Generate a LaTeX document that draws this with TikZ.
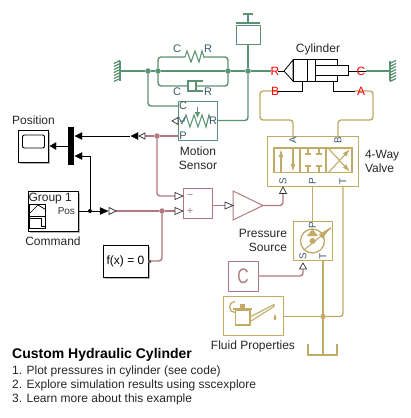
\documentclass[tikz,border=0pt]{standalone}
\usepackage{fontspec}
\setmainfont{Liberation Sans}
\usetikzlibrary{arrows.meta,calc}
\definecolor{grn}{HTML}{5A9273}
\definecolor{tan}{HTML}{C2AB66}
\definecolor{mau}{HTML}{B07A80}
\definecolor{slt}{HTML}{3E5A6A}
\tikzset{
 grnw/.style={draw=grn,line width=1.4pt,rounded corners=3pt},
 tanw/.style={draw=tan,line width=1.4pt,rounded corners=3pt},
 mauw/.style={draw=mau,line width=1.4pt,rounded corners=3pt},
 blkw/.style={draw=black,line width=0.8pt},
 box/.style={rectangle,inner sep=0pt,outer sep=0pt,fill=white},
 grnbox/.style={box,draw=grn,line width=0.8pt},
 tanbox/.style={box,draw=tan,line width=0.9pt},
 maubox/.style={box,draw=mau,line width=0.9pt},
 blkbox/.style={box,draw=black,line width=0.9pt},
 lbl/.style={inner sep=0pt,outer sep=0pt,font=\fontsize{12}{14}\selectfont,text=black!85,align=center},
 port/.style={inner sep=0pt,outer sep=0pt,font=\fontsize{10}{12}\selectfont},
 redl/.style={inner sep=0pt,outer sep=0pt,font=\fontsize{12}{12}\selectfont,text=red},
 jdot/.style={circle,inner sep=0pt,outer sep=0pt,minimum size=5.5pt},
 filltri/.style={fill=black,draw=black,line width=0.3pt},
 opentri/.style={fill=white,draw=black!80,line width=0.7pt},
}
\begin{document}
\begin{tikzpicture}[x=1pt,y=-1pt]
\useasboundingbox (0,0) rectangle (411,418);

% ---------- free connection points
\coordinate (gl) at (120,71);
\coordinate (grr) at (390,71);
\coordinate (rport) at (271,71);
\coordinate (cport) at (366,71);

% ---------- blocks
\node[grnbox,minimum width=39pt,minimum height=39pt] (ms) at (197.5,120.5) {};
\node[grnbox,minimum width=24pt,minimum height=19pt] (mass) at (248,34.5) {};
\node[tanbox,minimum width=91pt,minimum height=50pt] (valve) at (312.5,161) {};
\node[tanbox,minimum width=39pt,minimum height=39pt] (ps) at (312.5,240.5) {};
\node[tanbox,minimum width=60pt,minimum height=39pt] (fluid) at (253,315.5) {};
\node[maubox,minimum width=30pt,minimum height=30pt] (cblk) at (243,276) {};
\node[maubox,minimum width=29pt,minimum height=30pt] (sum) at (197.5,203) {};

\fill[black!28] (19.5,131.5) rectangle (49.5,163.5);
\node[blkbox,minimum width=30pt,minimum height=32pt] (scope) at (33,146) {};
\fill[black!28] (29.5,192.5) rectangle (79.5,232.5);
\node[blkbox,minimum width=50pt,minimum height=40pt] (cmd) at (53,211) {};
\fill[black!28] (104.5,246.5) rectangle (149.5,278.5);
\node[blkbox,minimum width=45pt,minimum height=32pt,font=\fontsize{12}{14}\selectfont] (fx) at (125.5,261) {f(x) = 0};
\node[box,fill=black,minimum width=6pt,minimum height=38pt] (mux) at (71,146) {};

% gain triangle
\coordinate (gin) at (233,205.5);
\coordinate (gout) at (263,205.5);
\draw[mau,line width=1pt,fill=white] (233,191) -- (gout) -- (233,220) -- cycle;

% ---------- junctions
\node[jdot,fill=grn] (j1) at (148,71) {};
\node[jdot,fill=grn] (j2) at (158,71) {};
\node[jdot,fill=grn] (j3) at (228,71) {};
\node[jdot,fill=grn] (j4) at (248,71) {};
\node[jdot,fill=mau] (j5) at (157,136) {};
\node[jdot,fill=mau] (j6) at (162,211) {};
\node[jdot,fill=black,minimum size=4pt] (j7) at (90,211) {};
\node[jdot,fill=tan] (j8) at (323,316.5) {};

% ---------- green wiring
\draw[grnw] (gl) -- (j1) -- (j2) -- (j3) -- (j4) -- (rport);
\draw[grnw] (j1) |- (ms.west |- 0,106);
\draw[grnw] (ms.east) -| (j4);
\draw[grnw] (j4) -- (mass.south);
\draw[grnw] (j2) |- (183,57);
\draw[grnw] (203,57) -| (j3);
\draw[grnw] (j2) |- (188,86);
\draw[grnw] (196,86) -| (j3);
\draw[grnw] (cport) -- (grr);
% spring
\draw[grn,line width=1.1pt,line join=miter] (183,57) -- (185,57) -- (187,51) -- (191,62) -- (195,51) -- (199,62) -- (202,51) -- (204,57);
% damper
\fill[white] (188,81) rectangle (196,91);
\draw[grn,line width=1.1pt] (203,81) -- (188,81) -- (188,91) -- (203,91);
\draw[grn,line width=1.8pt] (196,81) -- (196,91);
% left ground
\draw[grn,line width=1.3pt] (120,61) -- (120,81);
\foreach \y in {60.5,63.5,66.5,69.5,72.5,75.5,78.5}{\draw[grn,line width=1.2pt] (120,\y) -- (114,\y+3);}
% right ground
\draw[grn,line width=1.3pt] (390,61) -- (390,81);
\foreach \y in {60.5,63.5,66.5,69.5,72.5,75.5,78.5}{\draw[grn,line width=1.2pt] (390,\y+3) -- (396,\y);}
% mass
\draw[grn,line width=1.2pt] (236,23) -- (260,23);
\draw[grn,line width=1.2pt] (248,14) -- (248,23) (243,14) -- (253,14);

% sensor icon
\draw[grn,line width=1.1pt] (181,121) -- (184,121) -- (186,115) -- (190,127) -- (194,115) -- (198,127) -- (202,115) -- (206,127) -- (209,115) -- (211,121);
\draw[grn,line width=1.2pt,-{Latex[length=6pt,width=6pt]}] (197.5,107) -- (197.5,118);

% ---------- tan wiring
\draw[tanw] (278,91) -| (260,120) -| (293,136);
\draw[tanw] (355,91) -| (373,120) -| (338,136);
\draw[tanw] (312.5,186) -- (312.5,221);
\draw[tanw] (343,186) |- (j8);
\draw[tanw] (fluid.east |- j8) -- (j8);
\draw[tanw] (323,260) -- (323,355);
% tank
\draw[tan,line width=1.3pt] (308,344) -- (308,355) -- (337,355) -- (337,344);

% valve symbol
\draw[tan,line width=1.3pt] (274,148) rectangle (352,172.5);
\draw[tan,line width=1.3pt] (300,148) -- (300,172.5) (326,148) -- (326,172.5);
\draw[tan,line width=1.1pt,-{Latex[length=8pt,width=5pt]}] (281,172) -- (281,149);
\draw[tan,line width=1.1pt,-{Latex[length=8pt,width=5pt]}] (293,148.5) -- (293,172);
\draw[tan,line width=1.1pt] (308,148) -- (308,154) (319,148) -- (319,154) (305,154) -- (311,154) (316,154) -- (322,154);
\draw[tan,line width=1.1pt] (308,172) -- (308,166) (319,172) -- (319,166) (305,166) -- (311,166) (316,166) -- (322,166);
\draw[tan,line width=1.1pt,-{Latex[length=8pt,width=5pt]}] (329,172) -- (350,149);
\draw[tan,line width=1.1pt,-{Latex[length=8pt,width=5pt]}] (329,149) -- (350,172);

% pump symbol
\draw[tan,line width=1.3pt] (312.5,241) circle (12);
\fill[tan] (307,236) -- (312.5,229) -- (318,236) -- cycle;
\fill[tan] (312.5,241) circle (3);
\draw[tan,line width=1.1pt] (304,250) -- (331,228);
\fill[tan] (319,234.5) -- (331,227) -- (322.5,238.5) -- cycle;

% fluid icon
\draw[tan,line width=1.3pt] (235.5,310) rectangle (250,325);
\draw[tan,line width=1.3pt] (235,312.5) arc (90:270:5.5);
\fill[tan] (240,304) rectangle (245,308);
\fill[tan] (233,307.5) rectangle (252,310);
\draw[tan,line width=1.1pt] (250,317) -- (274,304.5) -- (274,306.5) -- (251,321);
\fill[tan] (275,314) .. controls (277,318) and (277,320) .. (275,320.5) .. controls (273,320) and (273,318) .. (275,314);

% ---------- mauve wiring
\draw[mauw] (145,136) -- (j5) -- (ms.west |- 0,136);
\draw[mauw] (j5) |- (175,196);
\draw[mauw] (116,211) -- (j6) -- (175,211);
\draw[mauw] (fx.east) -| (j6);
\draw[mauw] (sum.east |- 0,205.5) -- (225,205.5);
\draw[mauw] (gout) -| (283,194);
\draw[mauw] (cblk.east) -| (303,268);
\fill[black!65] (148,259.5) rectangle (151,262.5);

% ---------- black signals
\draw[blkw] (j7) |- (82,156);
\draw[blkw] (130,136) -- (82,136);
\draw[blkw] (cmd.east |- j7) -- (j7) -- (100,211);
\draw[blkw] (mux.west |- 0,146) -- (56,146);
% arrowheads
\path[filltri] (75,136) -- (82,132.5) -- (82,139.5) -- cycle;
\path[filltri] (75,156) -- (82,152.5) -- (82,159.5) -- cycle;
\path[filltri] (50,146) -- (56,142.5) -- (56,149.5) -- cycle;
\path[filltri] (131,136) -- (138,132.5) -- (138,139.5) -- cycle;
\path[opentri] (139,136) -- (145,133) -- (145,139) -- cycle;
\path[filltri] (108,211) -- (100,207.5) -- (100,214.5) -- cycle;
\path[opentri] (116,211) -- (109,207.5) -- (109,214.5) -- cycle;
\path[opentri] (183,196) -- (175,192.5) -- (175,199.5) -- cycle;
\path[opentri] (183,211) -- (175,207.5) -- (175,214.5) -- cycle;
\path[opentri] (233,205.5) -- (225,202) -- (225,209) -- cycle;
\path[opentri] (172,121) -- (178,117.5) -- (178,124.5) -- cycle;
\path[opentri] (283,187) -- (279.5,193.5) -- (286.5,193.5) -- cycle;
\path[opentri] (303,263) -- (299.5,269) -- (306.5,269) -- cycle;

% scope + command icons
\draw[black,line width=0.9pt,rounded corners=2pt] (22.5,135) rectangle (44.5,148);
\draw[black,line width=0.7pt] (29,204) rectangle (45.5,228);
\draw[black,line width=0.7pt] (29,216) -- (45.5,216);
\draw[black,line width=0.7pt] (29,214) -- (38,205) -- (45.5,209.5);
\draw[black,line width=0.7pt] (29,218.5) -- (41.5,218.5) -- (41.5,226) -- (45.5,226);

% ---------- cylinder
\draw[blkw] (rport) ++(7,0) -- (284,71);
\draw[blkw] (348,71) -- (cport);
\draw[blkw,fill=white] (284,71) -- (293,60) -- (293,81);
\draw[blkw] (284,71) -- (293,81);
\draw[blkw,fill=white] (293,59.5) rectangle (337,81.5);
\draw[blkw] (307.5,59.5) -- (307.5,81.5);
\draw[blkw,fill=white] (315,65) rectangle (348,75);
\draw[blkw] (315,59.5) -- (315,81.5);
\draw[blkw] (278,91) -| (302,81.5);
\draw[blkw] (355,91) -| (333,81.5);

% ---------- labels
\node[lbl] (lpos) at (33.5,120) {Position};
\node[lbl] (lcmd) at (53,241) {Command};
\node[lbl] (lcyl) at (318,49) {Cylinder};
\node[lbl] (lms) at (198,158) {Motion\\[0pt]Sensor};
\node[lbl,align=left,anchor=west] (lval) at (365,161) {4-Way\\[0pt]Valve};
\node[lbl,align=right,anchor=east] (lpsrc) at (287,240.5) {Pressure\\[0pt]Source};
\node[lbl] (lfl) at (253,346) {Fluid Properties};
\node[lbl,anchor=west] (lgrp) at (28.5,199) {Group 1};
\node[port,anchor=east,text=black!80] (lposo) at (75,211) {Pos};
\node[port,font=\fontsize{11}{12}\selectfont,text=mau] (lmin) at (190,196) {−};
\node[port,font=\fontsize{11}{12}\selectfont,text=mau] (lplus) at (190,211) {+};
\node[inner sep=0pt,font=\fontsize{21}{21}\selectfont,text=mau,xscale=0.75] (lc) at (243,276) {C};

\node[redl] (rR) at (275,71) {R};
\node[redl] (rC) at (361,71) {C};
\node[redl] (rB) at (275,91) {B};
\node[redl] (rA) at (361,91) {A};

\node[port,text=slt,font=\fontsize{11}{12}\selectfont] (sc1) at (177,49) {C};
\node[port,text=slt,font=\fontsize{11}{12}\selectfont] (sr1) at (208,49) {R};
\node[port,text=slt,font=\fontsize{11}{12}\selectfont] (sc2) at (177,92) {C};
\node[port,text=slt,font=\fontsize{11}{12}\selectfont] (sr2) at (208,92) {R};
\node[port,text=slt,font=\fontsize{11}{12}\selectfont] (mc) at (183,106) {C};
\node[port,text=slt,font=\fontsize{11}{12}\selectfont] (mr) at (213,121) {R};
\node[port,text=slt,font=\fontsize{11}{12}\selectfont] (mp) at (183,136) {P};
\node[port,text=slt,font=\fontsize{10}{12}\selectfont] (mv) at (182,121) {V};

\node[port,text=slt,rotate=90] (va) at (293,140.5) {A};
\node[port,text=slt,rotate=90] (vb) at (338,140.5) {B};
\node[port,text=slt,rotate=90] (vs) at (283,181) {S};
\node[port,text=slt,rotate=90] (vp) at (312.5,181) {P};
\node[port,text=slt,rotate=90] (vt) at (343,181) {T};
\node[port,text=slt,rotate=90] (pp) at (312.5,225) {P};
\node[port,text=slt,rotate=90] (pss) at (303,256) {S};
\node[port,text=slt,rotate=90] (pt) at (323,256) {T};

\node[inner sep=0pt,anchor=west,font=\bfseries\fontsize{14}{16}\selectfont,text=black] (tt) at (12,355) {Custom Hydraulic Cylinder};
\node[inner sep=0pt,anchor=west,font=\fontsize{12}{14}\selectfont,text=black!85] (t1) at (12,371) {1. Plot pressures in cylinder (see code)};
\node[inner sep=0pt,anchor=west,font=\fontsize{12}{14}\selectfont,text=black!85] (t2) at (12,385) {2. Explore simulation results using sscexplore};
\node[inner sep=0pt,anchor=west,font=\fontsize{12}{14}\selectfont,text=black!85] (t3) at (12,399) {3. Learn more about this example};
\end{tikzpicture}
\end{document}
